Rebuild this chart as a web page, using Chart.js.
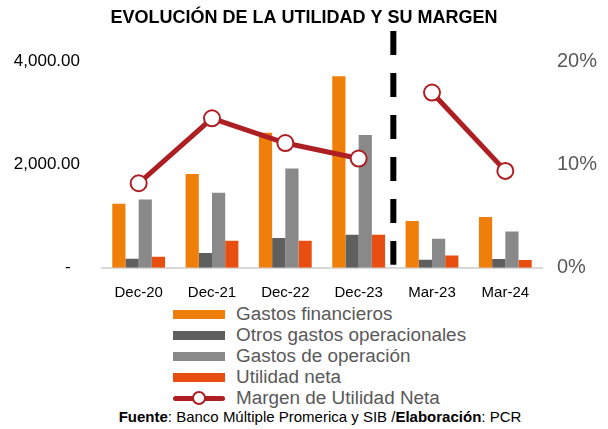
<!DOCTYPE html>
<html>
<head>
<meta charset="utf-8">
<script src="https://cdn.jsdelivr.net/npm/chart.js@4"></script>
<style>
  body { margin: 0; background: #fff; font-family: "Liberation Sans", Arial, sans-serif; }
  #wrap { position: relative; width: 608px; height: 429px; }
  #chart-box { position: absolute; left: 0; top: 0; width: 608px; height: 300px; }
  #legend { position: absolute; left: 173px; top: 304px; }
  .item { height: 21px; display: flex; align-items: center; }
  .swatch { width: 52px; height: 9px; margin-right: 11px; position: relative; flex: none; }
  .label { font-size: 18px; color: #595959; white-space: nowrap; display: inline-block; transform: scaleX(1.05); transform-origin: left center; }
  #footer { position: absolute; left: 0; width: 608px; top: 408px; text-align: center; font-size: 15px; color: #000; padding-left: 32px; box-sizing: border-box; }
</style>
</head>
<body>
<div id="wrap">
  <div id="chart-box"><canvas id="chart"></canvas></div>
  <div id="legend"></div>
  <div id="footer"><b>Fuente</b>: Banco Múltiple Promerica y SIB /<b>Elaboración</b>: PCR</div>
</div>
<script>
const categories = ["Dec-20", "Dec-21", "Dec-22", "Dec-23", "Mar-23", "Mar-24"];
const gastosFinancieros = [1243, 1819, 2621, 3715, 907, 984];
const otrosGastos = [175, 285, 577, 641, 155, 169];
const gastosOperacion = [1326, 1456, 1928, 2576, 563, 705];
const utilidadNeta = [214, 524, 524, 641, 239, 150];
const margenUtilidad = [0.082, 0.145, 0.121, 0.106, 0.170, 0.094];
const leftTicks = [0, 2000, 4000];
const rightTicks = [0, 0.1, 0.2];

const lineColor = "#AE1F23";

// vertical dashed separator between Dec-23 and Mar-23
const separator = {
  id: "separator",
  afterDatasetsDraw(chart) {
    const x = chart.scales.x;
    const xPos = (x.getPixelForValue(3) + x.getPixelForValue(4)) / 2 - 2;
    const ctx = chart.ctx;
    ctx.save();
    ctx.strokeStyle = "#000";
    ctx.lineWidth = 6;
    ctx.setLineDash([24, 18]);
    ctx.beginPath();
    ctx.moveTo(xPos, 31);
    ctx.lineTo(xPos, chart.chartArea.bottom - 3);
    ctx.stroke();
    ctx.restore();
  },
};

const chart = new Chart(document.getElementById("chart"), {
  type: "bar",
  data: {
    labels: categories,
    datasets: [
      {
        type: "line",
        label: "Margen de Utilidad Neta",
        data: margenUtilidad,
        yAxisID: "y1",
        borderColor: lineColor,
        borderWidth: 5,
        pointRadius: 8,
        pointBorderWidth: 2,
        pointBackgroundColor: "#fff",
        pointBorderColor: lineColor,
        segment: {
          borderColor: (ctx) => (ctx.p0DataIndex === 3 ? "transparent" : undefined),
        },
        order: 0,
      },
      { label: "Gastos financieros", data: gastosFinancieros, backgroundColor: "#F07F09", yAxisID: "y", order: 1 },
      { label: "Otros gastos operacionales", data: otrosGastos, backgroundColor: "#5F5F5F", yAxisID: "y", order: 1 },
      { label: "Gastos de operación", data: gastosOperacion, backgroundColor: "#898989", yAxisID: "y", order: 1 },
      { label: "Utilidad neta", data: utilidadNeta, backgroundColor: "#E84E0F", yAxisID: "y", order: 1 },
    ],
  },
  options: {
    responsive: true,
    maintainAspectRatio: false,
    animation: false,
    datasets: { bar: { barPercentage: 1, categoryPercentage: 0.72 } },
    layout: { padding: 0 },
    plugins: {
      legend: { display: false },
      tooltip: { enabled: false },
      title: {
        display: true,
        text: "EVOLUCIÓN DE LA UTILIDAD Y SU MARGEN",
        color: "#000",
        font: { family: "Liberation Sans", size: 18, weight: "bold" },
        padding: { top: 7, bottom: 33 },
      },
    },
    scales: {
      x: {
        grid: { display: false, drawTicks: false },
        border: { color: "#D9D9D9", width: 2 },
        ticks: { color: "#000", font: { family: "Liberation Sans", size: 15 }, padding: 16 },
        afterFit(scale) { scale.height = 32; },
      },
      y: {
        position: "left",
        min: 0,
        max: 4000,
        afterBuildTicks(scale) { scale.ticks = leftTicks.map((v) => ({ value: v })); },
        grid: { display: false, drawTicks: false },
        border: { display: false },
        ticks: {
          color: "#000",
          font: { family: "Liberation Sans", size: 17 },
          padding: 22,
          callback: (v) => (v === 0 ? "-  " : v.toLocaleString("en-US", { minimumFractionDigits: 2 })),
        },
        afterFit(scale) { scale.width = 102; },
      },
      y1: {
        position: "right",
        min: 0,
        max: 0.2,
        afterBuildTicks(scale) { scale.ticks = rightTicks.map((v) => ({ value: v })); },
        grid: { display: false, drawTicks: false },
        border: { display: false },
        ticks: {
          color: "#595959",
          font: { family: "Liberation Sans", size: 20 },
          padding: 15,
          callback: (v) => Math.round(v * 100) + "%",
        },
        afterFit(scale) { scale.width = 66; },
      },
    },
  },
  plugins: [separator],
});

// legend built from the chart datasets: bars first, then the line
const legend = document.getElementById("legend");
const legendOrder = [1, 2, 3, 4, 0];
legendOrder.forEach((i) => {
  const ds = chart.data.datasets[i];
  const item = document.createElement("div");
  item.className = "item";
  const sw = document.createElement("div");
  sw.className = "swatch";
  if (ds.type === "line") {
    sw.style.height = "5px";
    sw.style.background = ds.borderColor;
    sw.style.borderRadius = "3px";
    const dot = document.createElement("div");
    dot.style.cssText = "position:absolute;left:19px;top:-5px;width:14px;height:14px;border-radius:50%;background:#fff;border:2px solid " + ds.borderColor + ";box-sizing:border-box;";
    sw.appendChild(dot);
  } else {
    sw.style.background = ds.backgroundColor;
  }
  const lb = document.createElement("span");
  lb.className = "label";
  lb.textContent = ds.label;
  item.appendChild(sw);
  item.appendChild(lb);
  legend.appendChild(item);
});
</script>
</body>
</html>
